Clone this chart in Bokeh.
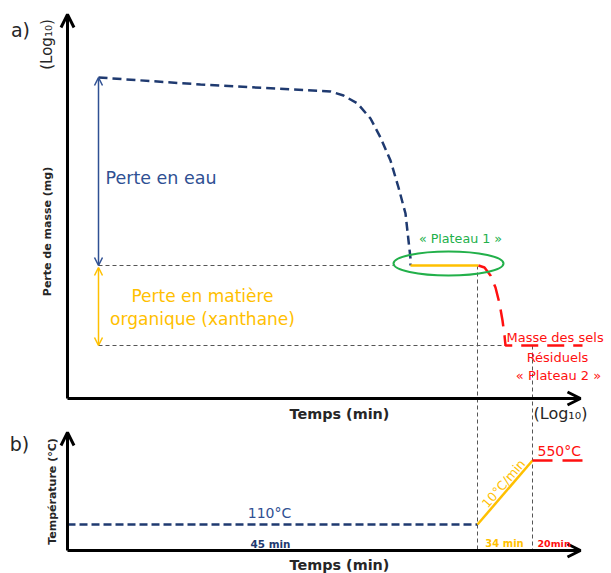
from bokeh.plotting import figure
from bokeh.models import Range1d, Arrow, OpenHead, Label
from bokeh.embed import file_html
from bokeh.resources import INLINE
import math

# ---------------- schematic data (reference frame units) ----------------
# panel a axes (origin, x-end, y-end)
axis_a_origin = (67, 398)
axis_a_x_end = 580
axis_a_y_end = 14
# panel b axes
axis_b_origin = (67, 550)
axis_b_x_end = 580
axis_b_y_end = 432

# water-loss curve (panel a, navy dashed)
water_x = [98, 200, 330, 343, 357, 370, 380, 390, 398, 405, 408, 410, 410]
water_y = [77, 84, 91, 95, 103, 118, 137, 160, 187, 213, 240, 258, 265]

# plateau 1 (organic matter, yellow)
plateau1_x = [410, 478]
plateau1_y = [265, 265]

# residual-salt curve (red dashed)
salt_x = [478, 484, 490, 495, 499, 502, 504, 505, 582]
salt_y = [265, 267, 275, 287, 303, 320, 335, 345, 345]

# levels of the mass-loss reference lines
level_water_top = 77
level_plateau1 = 265
level_plateau2 = 345
t_plateau1_end = 477
t_plateau2_start = 532

# panel b temperature program
iso110_x = [67, 477]
iso110_y = [524, 524]
ramp_x = [477, 532]
ramp_y = [524, 460]
iso550_x = [532, 582]
iso550_y = [460, 460]

NAVY = "#1f3a70"
BLUE = "#2f5093"
YELLOW = "#ffc000"
GREEN = "#22b04a"
RED = "#ff1010"
GREY = "#555555"
DARK = "#262626"
FONT = "DejaVu Sans"

p = figure(width=611, height=573, x_range=Range1d(0, 611), y_range=Range1d(573, 0),
           output_backend="svg", toolbar_location=None, min_border=0,
           x_axis_location=None, y_axis_location=None)
p.grid.visible = False
p.outline_line_color = None
p.background_fill_color = "white"

# ---- reference gray dashed lines
p.line([98, 393], [level_plateau1, level_plateau1], line_color=GREY, line_width=1, line_dash="4 3")
p.line([98, 505], [level_plateau2, level_plateau2], line_color=GREY, line_width=1, line_dash="4 3")
p.line([t_plateau1_end, t_plateau1_end], [level_plateau1, axis_b_origin[1]], line_color=GREY, line_width=1, line_dash="4 3")
p.line([t_plateau2_start, t_plateau2_start], [level_plateau2, axis_b_origin[1]], line_color=GREY, line_width=1, line_dash="4 3")

# ---- curves panel a
p.line(water_x, water_y, line_color=NAVY, line_width=2.5, line_dash="9 5")
p.line(plateau1_x, plateau1_y, line_color=YELLOW, line_width=2.5)
p.line(salt_x, salt_y, line_color=RED, line_width=2.5, line_dash="17 9")
p.ellipse(x=[448], y=[263], width=[110], height=[24], fill_color=None,
          line_color=GREEN, line_width=2)

# ---- panel b curves
p.line(iso110_x, iso110_y, line_color=NAVY, line_width=2.5, line_dash="8 4")
p.line(ramp_x, ramp_y, line_color=YELLOW, line_width=2.5)
p.line(iso550_x, iso550_y, line_color=RED, line_width=2.5, line_dash="20 10")

# ---- double arrows
p.add_layout(Arrow(start=OpenHead(size=8, line_width=1.5, line_color=BLUE),
                   end=OpenHead(size=8, line_width=1.5, line_color=BLUE),
                   x_start=98, y_start=level_water_top, x_end=98, y_end=level_plateau1,
                   line_color=BLUE, line_width=1.5))
p.add_layout(Arrow(start=OpenHead(size=8, line_width=1.5, line_color=YELLOW),
                   end=OpenHead(size=8, line_width=1.5, line_color=YELLOW),
                   x_start=98, y_start=level_plateau1 + 2, x_end=98, y_end=level_plateau2,
                   line_color=YELLOW, line_width=1.5))

# ---- axes
for (ox, oy), xe, ye in [(axis_a_origin, axis_a_x_end, axis_a_y_end),
                         (axis_b_origin, axis_b_x_end, axis_b_y_end)]:
    p.add_layout(Arrow(end=OpenHead(size=13, line_width=3, line_color="black"),
                       x_start=ox, y_start=oy, x_end=xe, y_end=oy,
                       line_color="black", line_width=3))
    p.add_layout(Arrow(end=OpenHead(size=13, line_width=3, line_color="black"),
                       x_start=ox, y_start=oy, x_end=ox, y_end=ye,
                       line_color="black", line_width=3))


def lab(x, y, t, size, color=DARK, align="left", bold=False, angle=0.0):
    p.add_layout(Label(x=x, y=y, text=t, text_font=FONT, text_font_size=f"{size}px",
                       text_color=color, text_align=align, text_baseline="middle",
                       text_font_style="bold" if bold else "normal", angle=angle))


V = math.pi / 2
lab(20, 29, "a)", 19, align="center")
lab(46, 44, "(Log₁₀)", 15, align="center", angle=V)
lab(47, 231, "Perte de masse (mg)", 11, align="center", bold=True, angle=V)
lab(105, 177, "Perte en eau", 17.5, color=BLUE)
lab(202, 295, "Perte en matière", 17, color=YELLOW, align="center")
lab(202, 318, "organique (xanthane)", 17, color=YELLOW, align="center")
lab(460, 238, "« Plateau 1 »", 12.7, color=GREEN, align="center")
lab(506, 337, "Masse des sels", 13, color=RED)
lab(557, 357, "Résiduels", 13, color=RED, align="center")
lab(558, 375, "« Plateau 2 »", 13, color=RED, align="center")
lab(339, 413, "Temps (min)", 14.4, align="center", bold=True)
lab(533, 413, "(Log₁₀)", 16)

lab(19, 443, "b)", 19, align="center")
lab(52, 491, "Température (°C)", 11, align="center", bold=True, angle=V)
lab(269, 512, "110°C", 14, color=BLUE, align="center")
lab(270, 543, "45 min", 10.4, color=NAVY, align="center", bold=True)
lab(504, 543, "34 min", 10, color=YELLOW, align="center", bold=True)
lab(537, 543, "20min", 9.5, color=RED, bold=True)
lab(537, 450, "550°C", 14, color=RED)
lab(503, 483, "10°C/min", 12.5, color=YELLOW, align="center", angle=math.atan2(64, 55))
lab(339, 564, "Temps (min)", 14.4, align="center", bold=True)

open("out.html", "w").write(file_html(p, INLINE))
